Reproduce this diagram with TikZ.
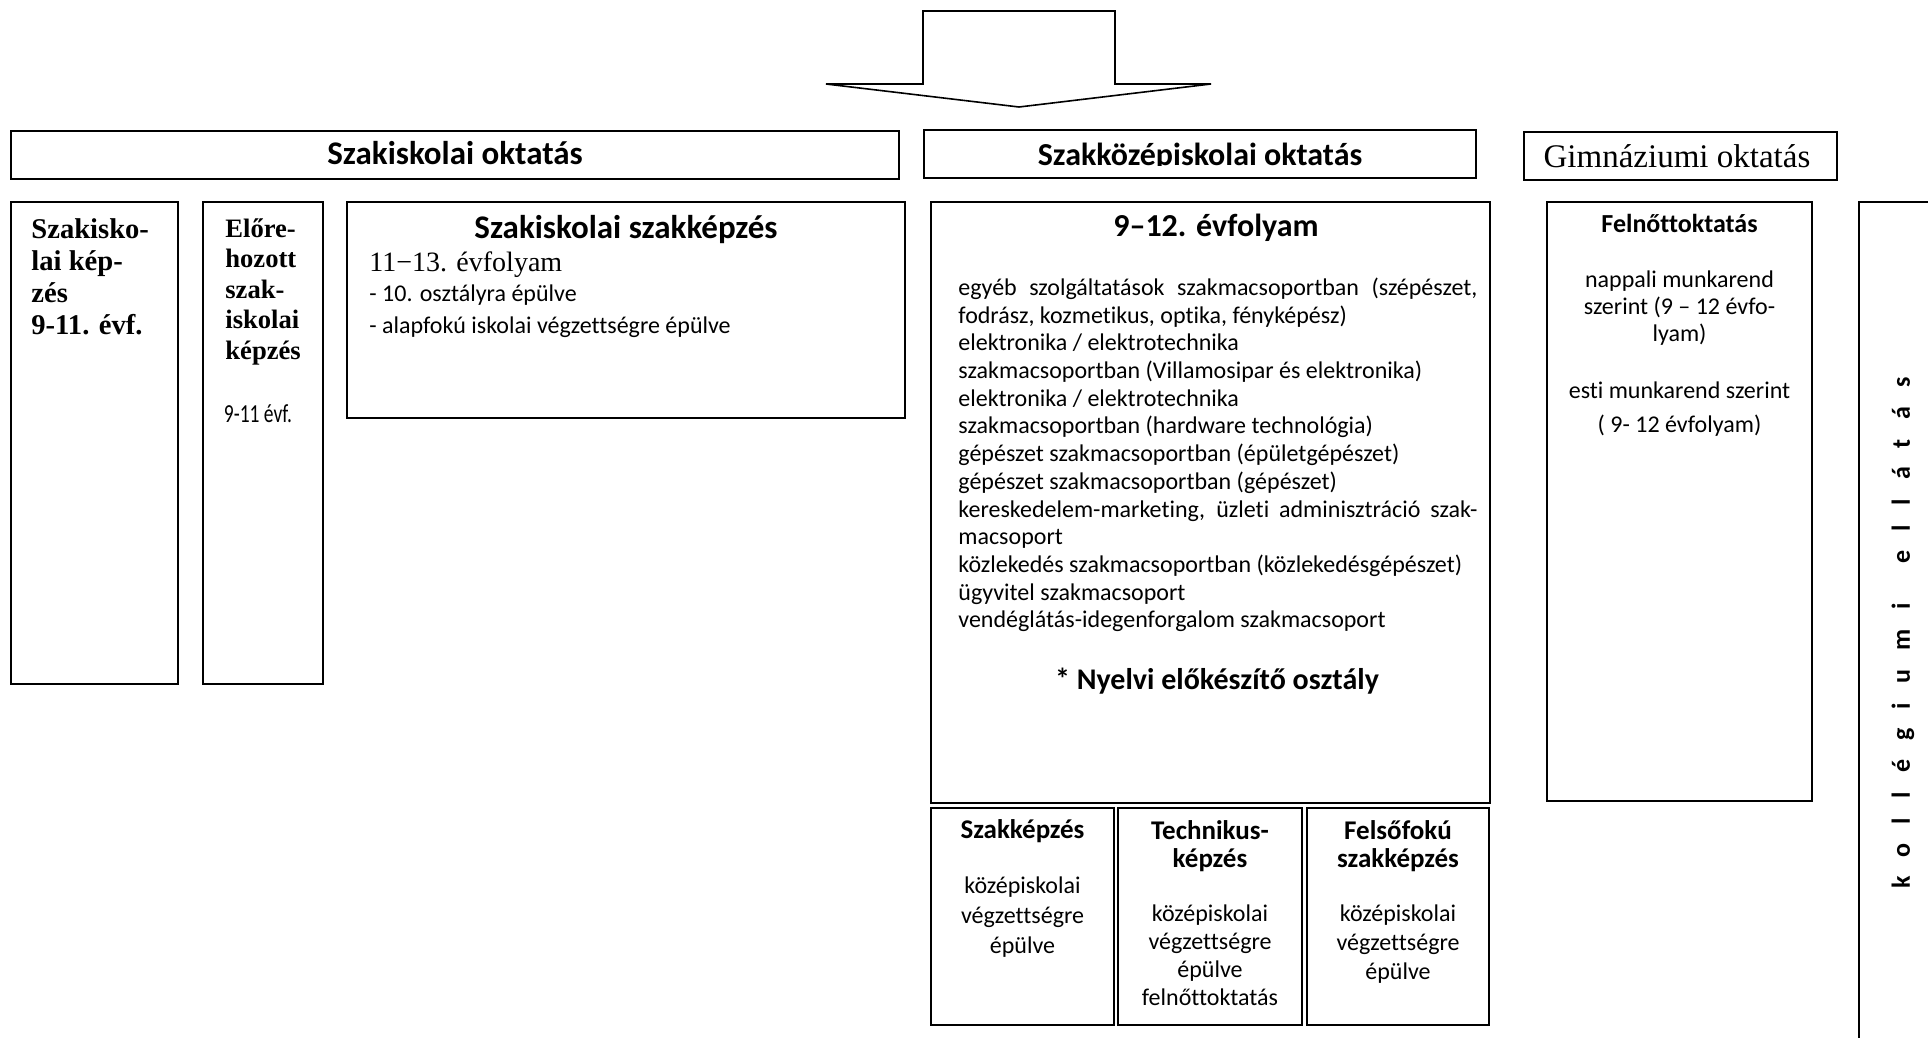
\documentclass[tikz,border=0pt]{standalone}
\usepackage{fontspec}
\setmainfont{Liberation Serif}
\setsansfont{Carlito}[Ligatures={TeX,NoCommon}]
\newfontfamily\condsans{Carlito}[FakeStretch=0.75,Ligatures={TeX,NoCommon}]

\begin{document}
\begin{tikzpicture}[x=0.5pt,y=-0.5pt,font=\sffamily]

\definecolor{box_node_draw}{RGB}{0,0,0}
\definecolor{box_node_fill}{RGB}{255,255,255}
\definecolor{box_node_text}{RGB}{0,0,0}
\tikzstyle{box_node_style}=[rectangle,draw=box_node_draw,fill=box_node_fill,line width = 0.8pt,inner sep=0pt]
\tikzstyle{text_node_style}=[text=box_node_text,inner sep=0pt]
\tikzstyle{body_font}=[font=\sffamily\fontsize{12}{13.85}\selectfont]

\useasboundingbox (0,0) rectangle (1928,1038);

% big arrow
\draw[draw=box_node_draw,line width = 0.8pt] (923,11) -- (1115,11) -- (1115,84) -- (1211,84) -- (1019,107) -- (826,84) -- (923,84) -- cycle;

% headers
\node(szakiskola_head) at (455,155) [box_node_style,minimum width=444pt,minimum height=24pt] {};

\node(szakkozep_head) at (1200,154) [box_node_style,minimum width=276pt,minimum height=24pt] {};

\node(gimnazium_head) at (1680.5,156) [box_node_style,minimum width=156.5pt,minimum height=24pt] {};

\node(szakiskola_head_text) at (455,164) [text_node_style,anchor=base,font=\sffamily\bfseries\fontsize{16.5}{18}\selectfont] {Szakiskolai oktatás};

\begin{scope}
\clip (924,130) rectangle (1476,166);
\node(szakkozep_head_text) at (1200,166) [text_node_style,anchor=base,font=\sffamily\bfseries\fontsize{16}{18}\selectfont] {Szakközépiskolai oktatás};
\end{scope}

\begin{scope}
\clip (1524,132) rectangle (1837,168.5);
\node(gimnazium_head_text) at (1677,168) [text_node_style,anchor=base,font=\rmfamily\fontsize{16.5}{18}\selectfont] {Gimnáziumi oktatás};
\end{scope}

% boxes
\node(szakiskolai_kepzes) at (94.5,443) [box_node_style,minimum width=83.5pt,minimum height=241pt] {};

\node(elorehozott) at (263,443) [box_node_style,minimum width=60pt,minimum height=241pt] {};

\node(szakiskolai_szakkepzes) at (626,310) [box_node_style,minimum width=279pt,minimum height=108pt] {};

\node(evfolyam) at (1210.5,502.5) [box_node_style,minimum width=279.5pt,minimum height=300.5pt] {};

\node(szakkepzes) at (1022.5,916.5) [box_node_style,minimum width=91.5pt,minimum height=108.5pt] {};

\node(technikus) at (1210,916.5) [box_node_style,minimum width=92pt,minimum height=108.5pt] {};

\node(felsofoku) at (1398,916.5) [box_node_style,minimum width=91pt,minimum height=108.5pt] {};

\node(felnottoktatas) at (1679.5,501.5) [box_node_style,minimum width=132.5pt,minimum height=299.5pt] {};

\node(kollegium) at (1910,630) [box_node_style,minimum width=51pt,minimum height=428pt] {};

% texts
\node(szakiskolai_kepzes_text) at (31,218.5) [text_node_style,anchor=north west,align=left,font=\rmfamily\bfseries\fontsize{14.3}{16}\selectfont] {Szakisko-\\lai kép-\\zés\\9-11. évf.};

\node(elorehozott_text) at (225,218) [text_node_style,anchor=north west,align=left,font=\rmfamily\bfseries\fontsize{13.3}{15.3}\selectfont] {Előre-\\hozott\\szak-\\iskolai\\képzés};

\node(elorehozott_evf) at (258,422) [text_node_style,anchor=base,font=\condsans\fontsize{13}{14}\selectfont] {9-11 évf.};

\node(szakiskolai_szakkepzes_title) at (626,238) [text_node_style,anchor=base,font=\sffamily\bfseries\fontsize{16.5}{18}\selectfont] {Szakiskolai szakképzés};

\node(szakiskolai_szakkepzes_evf) at (369,271) [text_node_style,anchor=base west,font=\rmfamily\fontsize{14}{16}\selectfont] {11−13. évfolyam};

\node(szakiskolai_szakkepzes_a) at (369,301) [text_node_style,anchor=base west,body_font] {- 10. osztályra épülve};

\node(szakiskolai_szakkepzes_b) at (369,333) [text_node_style,anchor=base west,body_font] {- alapfokú iskolai végzettségre épülve};

\node(evfolyam_title) at (1216,236) [text_node_style,anchor=base,font=\sffamily\bfseries\fontsize{16}{18}\selectfont] {9–12. évfolyam};

\node(evfolyam_list) at (958,277.5) [text_node_style,anchor=north west,text width=259.5pt,body_font] {\leftskip=0pt \rightskip=0pt \spaceskip=0pt \xspaceskip=0pt \parfillskip=0pt plus 1fil \tolerance=10000 \hyphenpenalty=10000 egyéb szolgáltatások szakmacsoportban (szépészet,\linebreak fodrász, kozmetikus, optika, fényképész)\newline elektronika / elektrotechnika\newline szakmacsoportban (Villamosipar és elektronika)\newline elektronika / elektrotechnika\newline szakmacsoportban (hardware technológia)\newline gépészet szakmacsoportban (épületgépészet)\newline gépészet szakmacsoportban (gépészet)\newline kereskedelem-marketing, üzleti adminisztráció szak-\linebreak macsoport\newline közlekedés szakmacsoportban (közlekedésgépészet)\newline ügyvitel szakmacsoport\newline vendéglátás-idegenforgalom szakmacsoport\par};

\node(nyelvi) at (1217,689) [text_node_style,anchor=base,font=\sffamily\bfseries\fontsize{15}{17}\selectfont] {* Nyelvi előkészítő osztály};

\node(szakkepzes_title) at (1022.5,838) [text_node_style,anchor=base,font=\sffamily\bfseries\fontsize{13.5}{14}\selectfont] {Szakképzés};

\node(szakkepzes_text) at (1022.5,876) [text_node_style,anchor=north,align=center,font=\sffamily\fontsize{12}{15}\selectfont] {középiskolai\\végzettségre\\épülve};

\node(technikus_title) at (1210,820) [text_node_style,anchor=north,align=center,font=\sffamily\bfseries\fontsize{13.5}{14}\selectfont] {Technikus-\\képzés};

\node(technikus_text) at (1210,904) [text_node_style,anchor=north,align=center,font=\sffamily\fontsize{12}{14}\selectfont] {középiskolai\\végzettségre\\épülve\\felnőttoktatás};

\node(felsofoku_title) at (1398,820) [text_node_style,anchor=north,align=center,font=\sffamily\bfseries\fontsize{13.5}{14}\selectfont] {Felsőfokú\\szakképzés};

\node(felsofoku_text) at (1398,904) [text_node_style,anchor=north,align=center,font=\sffamily\fontsize{12}{14.5}\selectfont] {középiskolai\\végzettségre\\épülve};

\node(felnottoktatas_title) at (1679.5,232) [text_node_style,anchor=base,font=\sffamily\bfseries\fontsize{13}{14}\selectfont] {Felnőttoktatás};

\node(felnottoktatas_nappali) at (1679.5,270) [text_node_style,anchor=north,align=center,font=\sffamily\fontsize{12}{13.5}\selectfont] {nappali munkarend\\szerint (9 – 12 évfo-\\lyam)};

\node(felnottoktatas_esti) at (1679.5,381.5) [text_node_style,anchor=north,align=center,font=\sffamily\fontsize{12}{13.5}\selectfont] {esti munkarend szerint\\[3.5pt]( 9- 12 évfolyam)};

\node(kollegium_text) at (1903,633) [text_node_style,rotate=90,font=\sffamily\bfseries\fontsize{13}{14}\selectfont\addfontfeature{LetterSpace=74}] {kollégiumi\hspace{20pt}ellátás};

\end{tikzpicture}
\end{document}
